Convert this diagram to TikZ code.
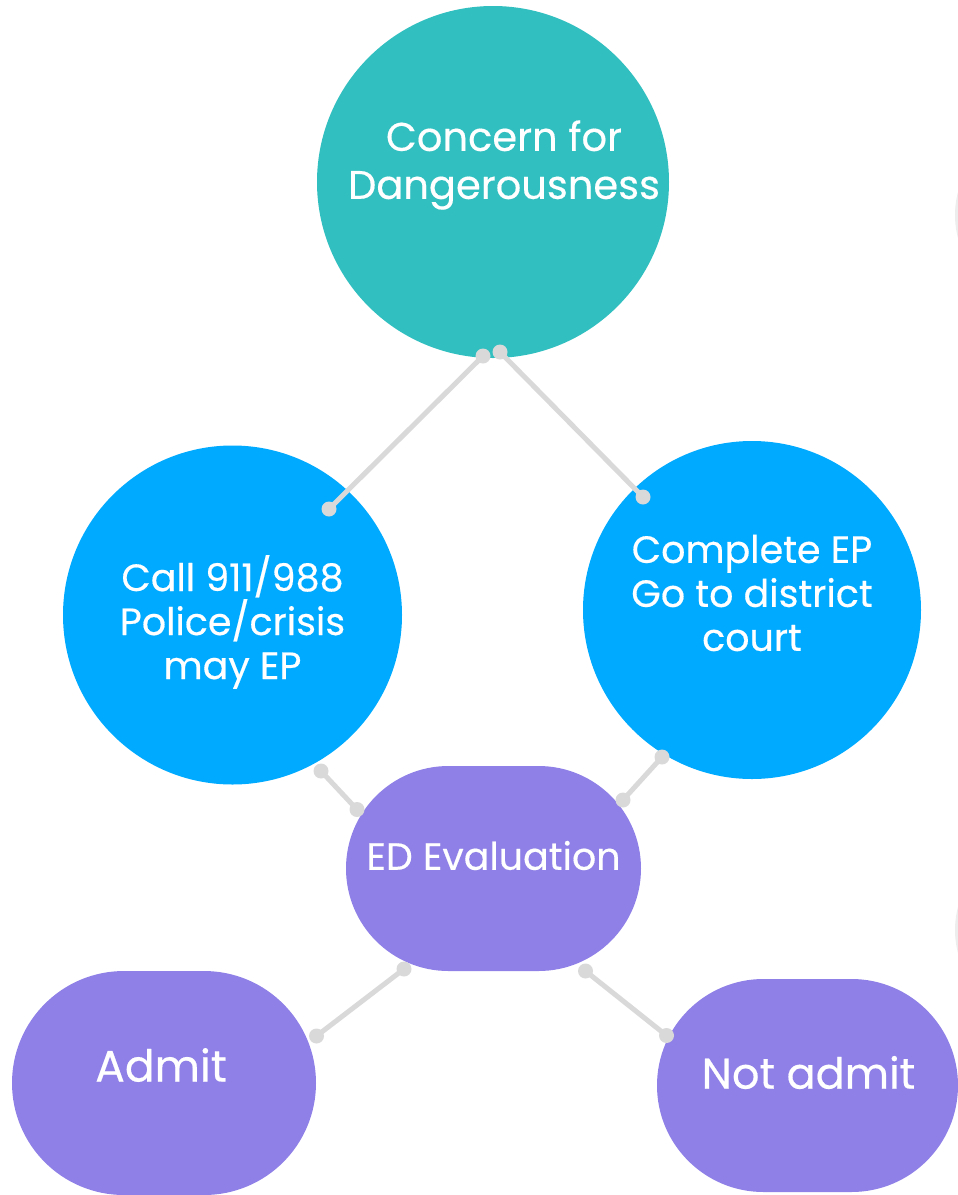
\documentclass[tikz,border=0pt]{standalone}
\usepackage{fontspec}
\setmainfont{Poppins}[FakeBold=0.4]
\usetikzlibrary{shapes.misc,calc}
\definecolor{concern}{HTML}{31BFBF}
\definecolor{callblue}{HTML}{00AAFF}
\definecolor{evalpurple}{HTML}{8E80E6}
\definecolor{linkgray}{HTML}{D9D9D9}
\definecolor{faint}{HTML}{EDEDED}
\begin{document}
\begin{tikzpicture}[x=1pt, y=-1pt]
	\tikzset{
		bubble/.style={circle, fill=#1, inner sep=0pt},
		pill/.style={rounded rectangle, fill=evalpurple, inner sep=0pt},
		txt/.style={text=white, align=center, font=\fontsize{38}{44}\selectfont},
		big/.style={font=\fontsize{#1}{48}\selectfont},
		link/.style={draw=linkgray, line width=5pt}
	}
	\useasboundingbox (0,0) rectangle (958,1195);
	\clip (0,0) rectangle (958,1195);
	% shapes cut off by the right edge
	\fill[faint] (1045,215) circle (90);
	\fill[faint] (1045,930) circle (90);
	\node[bubble=concern, minimum size=352pt, label={[txt, big=40, yshift=17pt, xshift=11pt]center:{Concern for\\Dangerousness}}] (danger) at (493,182) {};
	\node[bubble=callblue, minimum size=339pt, label={[txt, yshift=-7pt]center:{Call 911/988\\Police/crisis\\may EP}}] (call) at (232.5,615) {};
	\node[bubble=callblue, minimum size=338pt, label={[txt, yshift=17pt]center:{Complete EP\\Go to district\\court}}] (court) at (752,610) {};
	\node[pill, minimum width=295pt, minimum height=205pt, label={[txt, yshift=13pt]center:ED Evaluation}] (eval) at (493.5,868.5) {};
	\node[pill, minimum width=304pt, minimum height=224pt, label={[txt, big=44, yshift=18pt, xshift=-3pt]center:Admit}] (admit) at (164,1083) {};
	\node[pill, minimum width=301pt, minimum height=213pt, label={[txt, big=43, yshift=13pt, xshift=1pt]center:Not admit}] (notadmit) at (807.5,1085.5) {};
	% connector ends
	\coordinate (dA) at ($(danger)+(-10,174)$);
	\coordinate (dB) at ($(danger)+(7,170)$);
	\coordinate (cA) at ($(call)+(96.5,-106)$);
	\coordinate (cB) at ($(call)+(88.5,156)$);
	\coordinate (kA) at ($(court)+(-109,-113)$);
	\coordinate (kB) at ($(court)+(-90,147)$);
	\coordinate (eA) at ($(eval)+(-136.5,-59)$);
	\coordinate (eB) at ($(eval)+(129.5,-68.5)$);
	\coordinate (eC) at ($(eval)+(-89.5,100.5)$);
	\coordinate (eD) at ($(eval)+(92,102.5)$);
	\coordinate (aA) at ($(admit)+(152.5,-47)$);
	\coordinate (nA) at ($(notadmit)+(-141,-50)$);
	\foreach \a/\b in {dA/cA, dB/kA, cB/eA, kB/eB, eC/aA, eD/nA} {
		\draw[link] (\a) -- (\b);
		\fill[linkgray] (\a) circle (7.5) (\b) circle (7.5);
	}
\end{tikzpicture}
\end{document}
